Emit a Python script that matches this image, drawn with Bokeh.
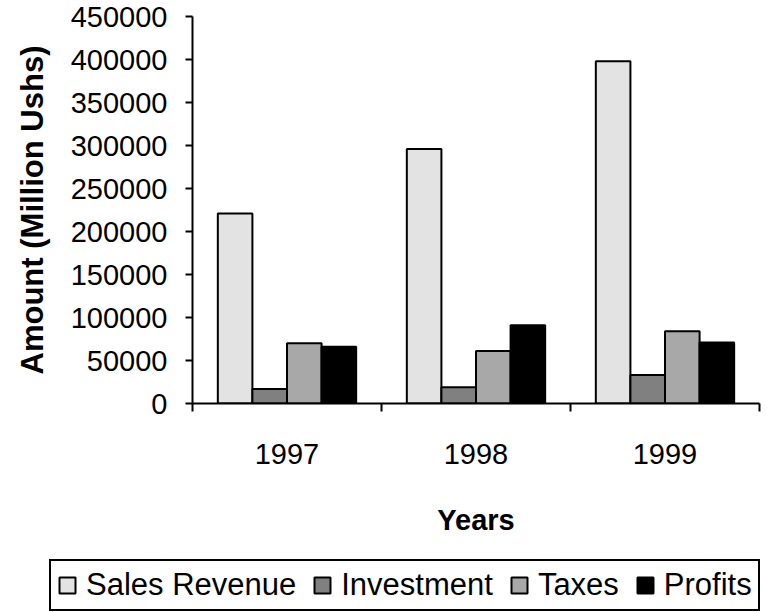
from bokeh.plotting import figure
from bokeh.models import (Range1d, FixedTicker, SingleIntervalTicker, PrintfTickFormatter,
                          Legend, LegendItem, ColumnDataSource)
from bokeh.transform import dodge
from bokeh.embed import file_html
from bokeh.resources import INLINE

years = ["1997", "1998", "1999"]
series_names = ["Sales Revenue", "Investment", "Taxes", "Profits"]
sales_revenue = [221000, 296000, 398000]
investment = [17000, 19000, 33000]
taxes = [70000, 61000, 84000]
profits = [66000, 91000, 71000]
colors = ["#e3e3e3", "#808080", "#a8a8a8", "#000000"]

FONT = "Liberation Sans"
bar_w = 0.183

p = figure(width=767, height=555, output_backend="svg", toolbar_location=None,
           x_range=Range1d(0, len(years)), y_range=Range1d(0, 450000),
           min_border_left=192, min_border_right=8, min_border_top=16, min_border_bottom=152)
p.outline_line_color = None
p.grid.visible = False
p.background_fill_color = "white"
p.border_fill_color = "white"

src = ColumnDataSource(dict(x=[i + 0.5 for i in range(len(years))],
                            sales=sales_revenue, inv=investment, tax=taxes, prof=profits))
cols = ["sales", "inv", "tax", "prof"]
for k, (col, color) in enumerate(zip(cols, colors)):
    off = (k - 1.5) * bar_w
    p.vbar(x=dodge("x", off), top=col, width=bar_w, source=src,
           fill_color=color, line_color="black", line_width=2)

# x axis
xa = p.xaxis[0]
xa.ticker = FixedTicker(ticks=[i + 0.5 for i in range(len(years))],
                        minor_ticks=list(range(len(years) + 1)))
xa.major_label_overrides = {i + 0.5: y for i, y in enumerate(years)}
xa.major_tick_out = 0
xa.major_tick_in = 0
xa.minor_tick_out = 8
xa.minor_tick_in = 0
xa.minor_tick_line_width = 2
xa.minor_tick_line_color = "black"
xa.axis_line_width = 2
xa.axis_line_color = "black"
xa.major_label_text_font = FONT
xa.major_label_text_font_size = "29px"
xa.major_label_text_color = "black"
xa.major_label_standoff = 32
xa.axis_label = "Years"
xa.axis_label_text_font = FONT
xa.axis_label_text_font_size = "29px"
xa.axis_label_text_font_style = "bold"
xa.axis_label_text_color = "black"
xa.axis_label_standoff = 37

# y axis
ya = p.yaxis[0]
ya.ticker = SingleIntervalTicker(interval=50000, num_minor_ticks=0)
ya.formatter = PrintfTickFormatter(format="%d")
ya.major_tick_out = 7
ya.major_tick_in = 0
ya.major_tick_line_width = 2
ya.major_tick_line_color = "black"
ya.minor_tick_out = 0
ya.minor_tick_in = 0
ya.axis_line_width = 2
ya.axis_line_color = "black"
ya.major_label_text_font = FONT
ya.major_label_text_font_size = "29px"
ya.major_label_text_color = "black"
ya.major_label_standoff = 18
ya.axis_label = "Amount (Million Ushs)"
ya.axis_label_text_font = FONT
ya.axis_label_text_font_size = "31px"
ya.axis_label_text_font_style = "bold"
ya.axis_label_text_color = "black"
ya.axis_label_standoff = 18

# legend strip: a separate root figure so the legend box can span nearly the full width.
# Its bars use the same data but lie outside its view (below/right); only the legend is seen.
p2 = figure(width=767, height=57, output_backend="svg", toolbar_location=None,
            x_range=Range1d(-1.5, -0.5), y_range=Range1d(500000, 1000000),
            min_border_left=0, min_border_right=0, min_border_top=0, min_border_bottom=0)
p2.axis.visible = False
p2.grid.visible = False
p2.outline_line_color = None
p2.border_fill_color = "white"
p2.background_fill_color = "white"
leg_renderers = []
for k, (col, color) in enumerate(zip(cols, colors)):
    off = (k - 1.5) * bar_w
    r = p2.vbar(x=dodge("x", off), top=col, width=bar_w, source=src,
                fill_color=color, line_color="black", line_width=2)
    leg_renderers.append(r)

legend = Legend(items=[LegendItem(label=n, renderers=[r]) for n, r in zip(series_names, leg_renderers)],
                orientation="horizontal", location=(49, 1),
                glyph_width=20, glyph_height=20, label_standoff=9, spacing=16,
                padding=6, margin=0,
                label_text_font=FONT, label_text_font_size="31px", label_text_color="black",
                border_line_color="black", border_line_width=2, border_line_alpha=1.0,
                background_fill_color="white", background_fill_alpha=1.0)
p2.add_layout(legend, "center")

open("out.html", "w").write(file_html([p, p2], INLINE))
